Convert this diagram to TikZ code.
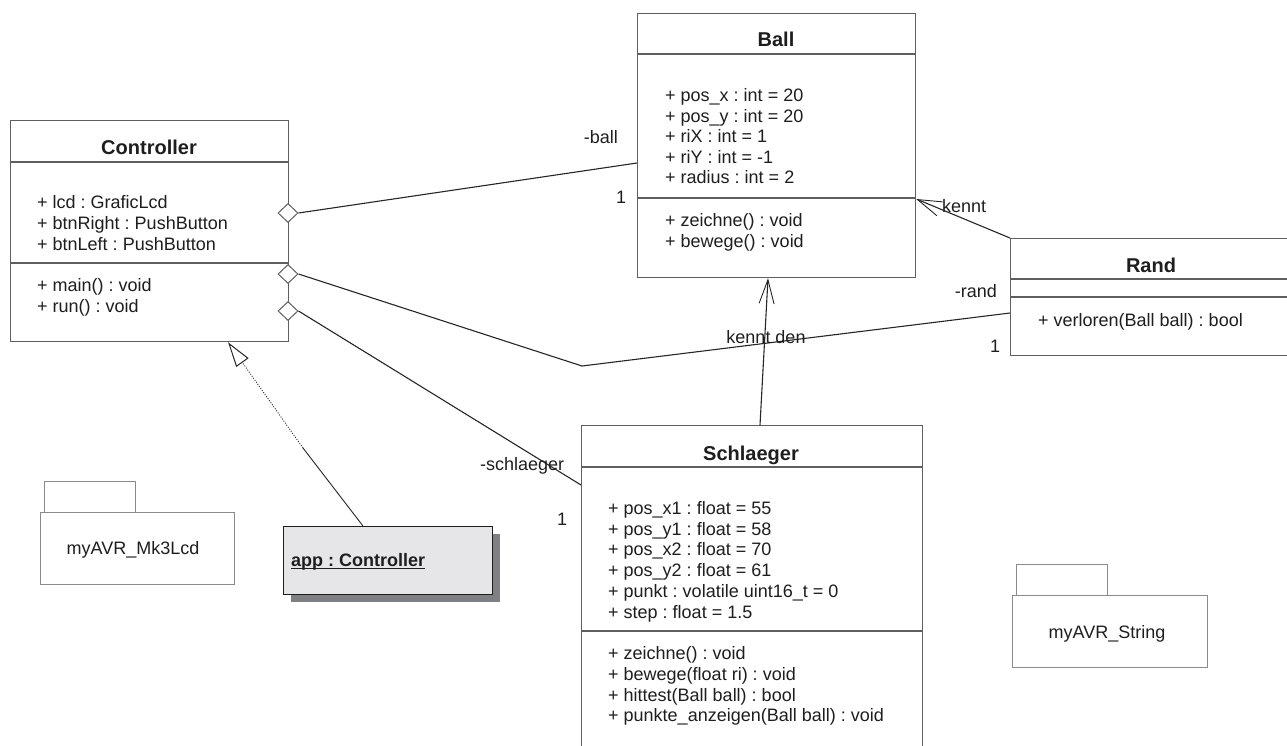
\documentclass[tikz,border=0pt]{standalone}
\usepackage{fontspec}
\setmainfont{Liberation Sans}
\usetikzlibrary{shapes.geometric,arrows.meta,calc,shadows}
\definecolor{boxline}{HTML}{5F5F5F}
\definecolor{pkgline}{HTML}{8A8A8A}
\definecolor{ink}{HTML}{1E1E1E}
\definecolor{wirecol}{HTML}{262626}
\definecolor{objfill}{HTML}{E6E6E8}
\definecolor{objshadow}{HTML}{7E8084}
\newcommand\memfont{\fontsize{18}{21}\selectfont}
\newcommand\ttlfont{\fontsize{20}{24}\selectfont\bfseries}
\frenchspacing

\begin{document}
\begin{tikzpicture}[x=1pt,y=-1pt,
  box/.style={draw=boxline, line width=1.2pt, fill=white, inner sep=0, anchor=north west},
  pkg/.style={draw=pkgline, line width=1.2pt, fill=white, inner sep=0, anchor=north west},
  sep/.style={draw=boxline, line width=1.2pt},
  ttl/.style={font=\ttlfont, text=ink, inner sep=0, anchor=base},
  mem/.style={font=\memfont, text=ink, inner sep=0, anchor=base west},
  lbl/.style={font=\memfont, text=ink, inner sep=0},
  wire/.style={draw=wirecol, line width=1.1pt},
  agg/.style={draw=boxline, fill=white, shape=diamond, minimum width=20pt, minimum height=19pt, inner sep=0, line width=1pt},
  barb/.style={-{Straight Barb[length=24pt, width=15pt, line width=0.9pt]}},
]
\useasboundingbox (0,0) rectangle (1287,745);
\clip (0,0) rectangle (1287,745);

% ---------- class Controller ----------
\node[box, minimum width=278pt, minimum height=221pt] (ctrl) at (10,120) {};
\draw[sep] (ctrl.west |- 0,162) -- (ctrl.east |- 0,162);
\draw[sep] (ctrl.west |- 0,263) -- (ctrl.east |- 0,263);
\node[ttl] (ctrl-t) at (149,154) {Controller};
\foreach \s [count=\i] in {{+ lcd : GraficLcd},{+ btnRight : PushButton},{+ btnLeft : PushButton}}
  \node[mem] (ctrl-a\i) at (37,{208+21*(\i-1)}) {\s};
\foreach \s [count=\i] in {{+ main() : void},{+ run() : void}}
  \node[mem] (ctrl-o\i) at (37,{291.5+21*(\i-1)}) {\s};

% ---------- class Ball ----------
\node[box, minimum width=278pt, minimum height=264pt] (ball) at (637,13) {};
\draw[sep] (ball.west |- 0,54) -- (ball.east |- 0,54);
\draw[sep] (ball.west |- 0,198) -- (ball.east |- 0,198);
\node[ttl] (ball-t) at (776,46) {Ball};
\foreach \s [count=\i] in {{+ pos\_x : int = 20},{+ pos\_y : int = 20},{+ riX : int = 1},{+ riY : int = -1},{+ radius : int = 2}}
  \node[mem] (ball-a\i) at (665,{101.5+20.6*(\i-1)}) {\s};
\foreach \s [count=\i] in {{+ zeichne() : void},{+ bewege() : void}}
  \node[mem] (ball-o\i) at (665,{226.5+21*(\i-1)}) {\s};

% ---------- class Rand ----------
\node[box, minimum width=282pt, minimum height=117pt] (rand) at (1010,238) {};
\draw[sep] (rand.west |- 0,279) -- (rand.east |- 0,279);
\draw[sep] (rand.west |- 0,297) -- (rand.east |- 0,297);
\node[ttl] (rand-t) at (1151,272) {Rand};
\node[mem] (rand-o1) at (1038,326.5) {+ verloren(Ball ball) : bool};

% ---------- class Schlaeger ----------
\node[box, minimum width=341pt, minimum height=340pt] (schl) at (581,425) {};
\draw[sep] (schl.west |- 0,467) -- (schl.east |- 0,467);
\draw[sep] (schl.west |- 0,631) -- (schl.east |- 0,631);
\node[ttl] (schl-t) at (751,460) {Schlaeger};
\foreach \s [count=\i] in {{+ pos\_x1 : float = 55},{+ pos\_y1 : float = 58},{+ pos\_x2 : float = 70},{+ pos\_y2 : float = 61},{+ punkt : volatile uint16\_t = 0},{+ step : float = 1.5}}
  \node[mem] (schl-a\i) at (608,{514.5+20.7*(\i-1)}) {\s};
\foreach \s [count=\i] in {{+ zeichne() : void},{+ bewege(float ri) : void},{+ hittest(Ball ball) : bool},{+ punkte\_anzeigen(Ball ball) : void}}
  \node[mem] (schl-o\i) at (608,{659.5+20.8*(\i-1)}) {\s};

% ---------- object app ----------
\node[box, draw=ink, fill=objfill, minimum width=209pt, minimum height=68pt,
  drop shadow={shadow xshift=7pt, shadow yshift=-7pt, fill=objshadow, opacity=1}] (app) at (283,526) {};
\node[mem, font=\memfont\bfseries] (app-t) at (291,566.5) {app : Controller};
\draw[draw=ink, line width=1pt] ($(app-t.base west)+(0,2)$) -- ($(app-t.base east)+(0,2)$);

% ---------- packages ----------
\node[pkg, minimum width=91pt, minimum height=31pt] (lcd-tab) at (44,481) {};
\node[pkg, minimum width=194pt, minimum height=72pt] (lcd) at (40,512) {};
\node[lbl, anchor=base] (lcd-t) at (133,554.5) {myAVR\_Mk3Lcd};
\node[pkg, minimum width=91pt, minimum height=31pt] (str-tab) at (1016,564) {};
\node[pkg, minimum width=195pt, minimum height=72pt] (str) at (1012,595) {};
\node[lbl, anchor=base] (str-t) at (1107,638) {myAVR\_String};

% ---------- aggregation ends on Controller ----------
\node[agg] (d1) at (288,213) {};
\node[agg] (d2) at (288,274) {};
\node[agg] (d3) at (288,311) {};

% ---------- associations ----------
\draw[wire] (d1.east) -- ($(ball.north west)+(0,150)$);
\node[lbl, anchor=base east] (l-ball) at (618,143) {-ball};
\node[lbl, anchor=base] (m-ball) at (621,203) {1};

\coordinate (rbend) at (582,366);
\draw[wire] (d2.east) -- (rbend) -- ($(rand.north west)+(0,75)$);
\node[lbl, anchor=base east] (l-rand) at (997,297.5) {-rand};
\node[lbl, anchor=base] (m-rand) at (995,352.5) {1};

\draw[wire] (d3.east) -- ($(schl.north west)+(0,60)$);
\node[lbl, anchor=base west] (l-schl) at (480,470) {-schlaeger};
\node[lbl, anchor=base] (m-schl) at (562,525.5) {1};

\draw[wire, barb] (rand.north west) -- ($(ball.north east)+(0,186)$);
\node[lbl, anchor=base west] (l-kennt) at (942,212.5) {kennt};

\draw[wire, barb] ($(schl.north west)+(179,0)$) -- ($(ball.south west)+(131,0)$);
\node[lbl, anchor=base] (l-kden) at (766,343.5) {kennt den};

% ---------- realization app -> Controller ----------
\coordinate (gbend) at (303,448);
\draw[wire, line width=0.9pt] ($(app.north west)+(80,0)$) -- (gbend);
\draw[wire, line width=0.9pt, dash pattern=on 1pt off 1.5pt,
  -{Triangle[open, length=25pt, width=15pt, line width=1pt, fill=white]}]
  (gbend) -- ($(ctrl.south west)+(218,0)$);
\end{tikzpicture}
\end{document}
